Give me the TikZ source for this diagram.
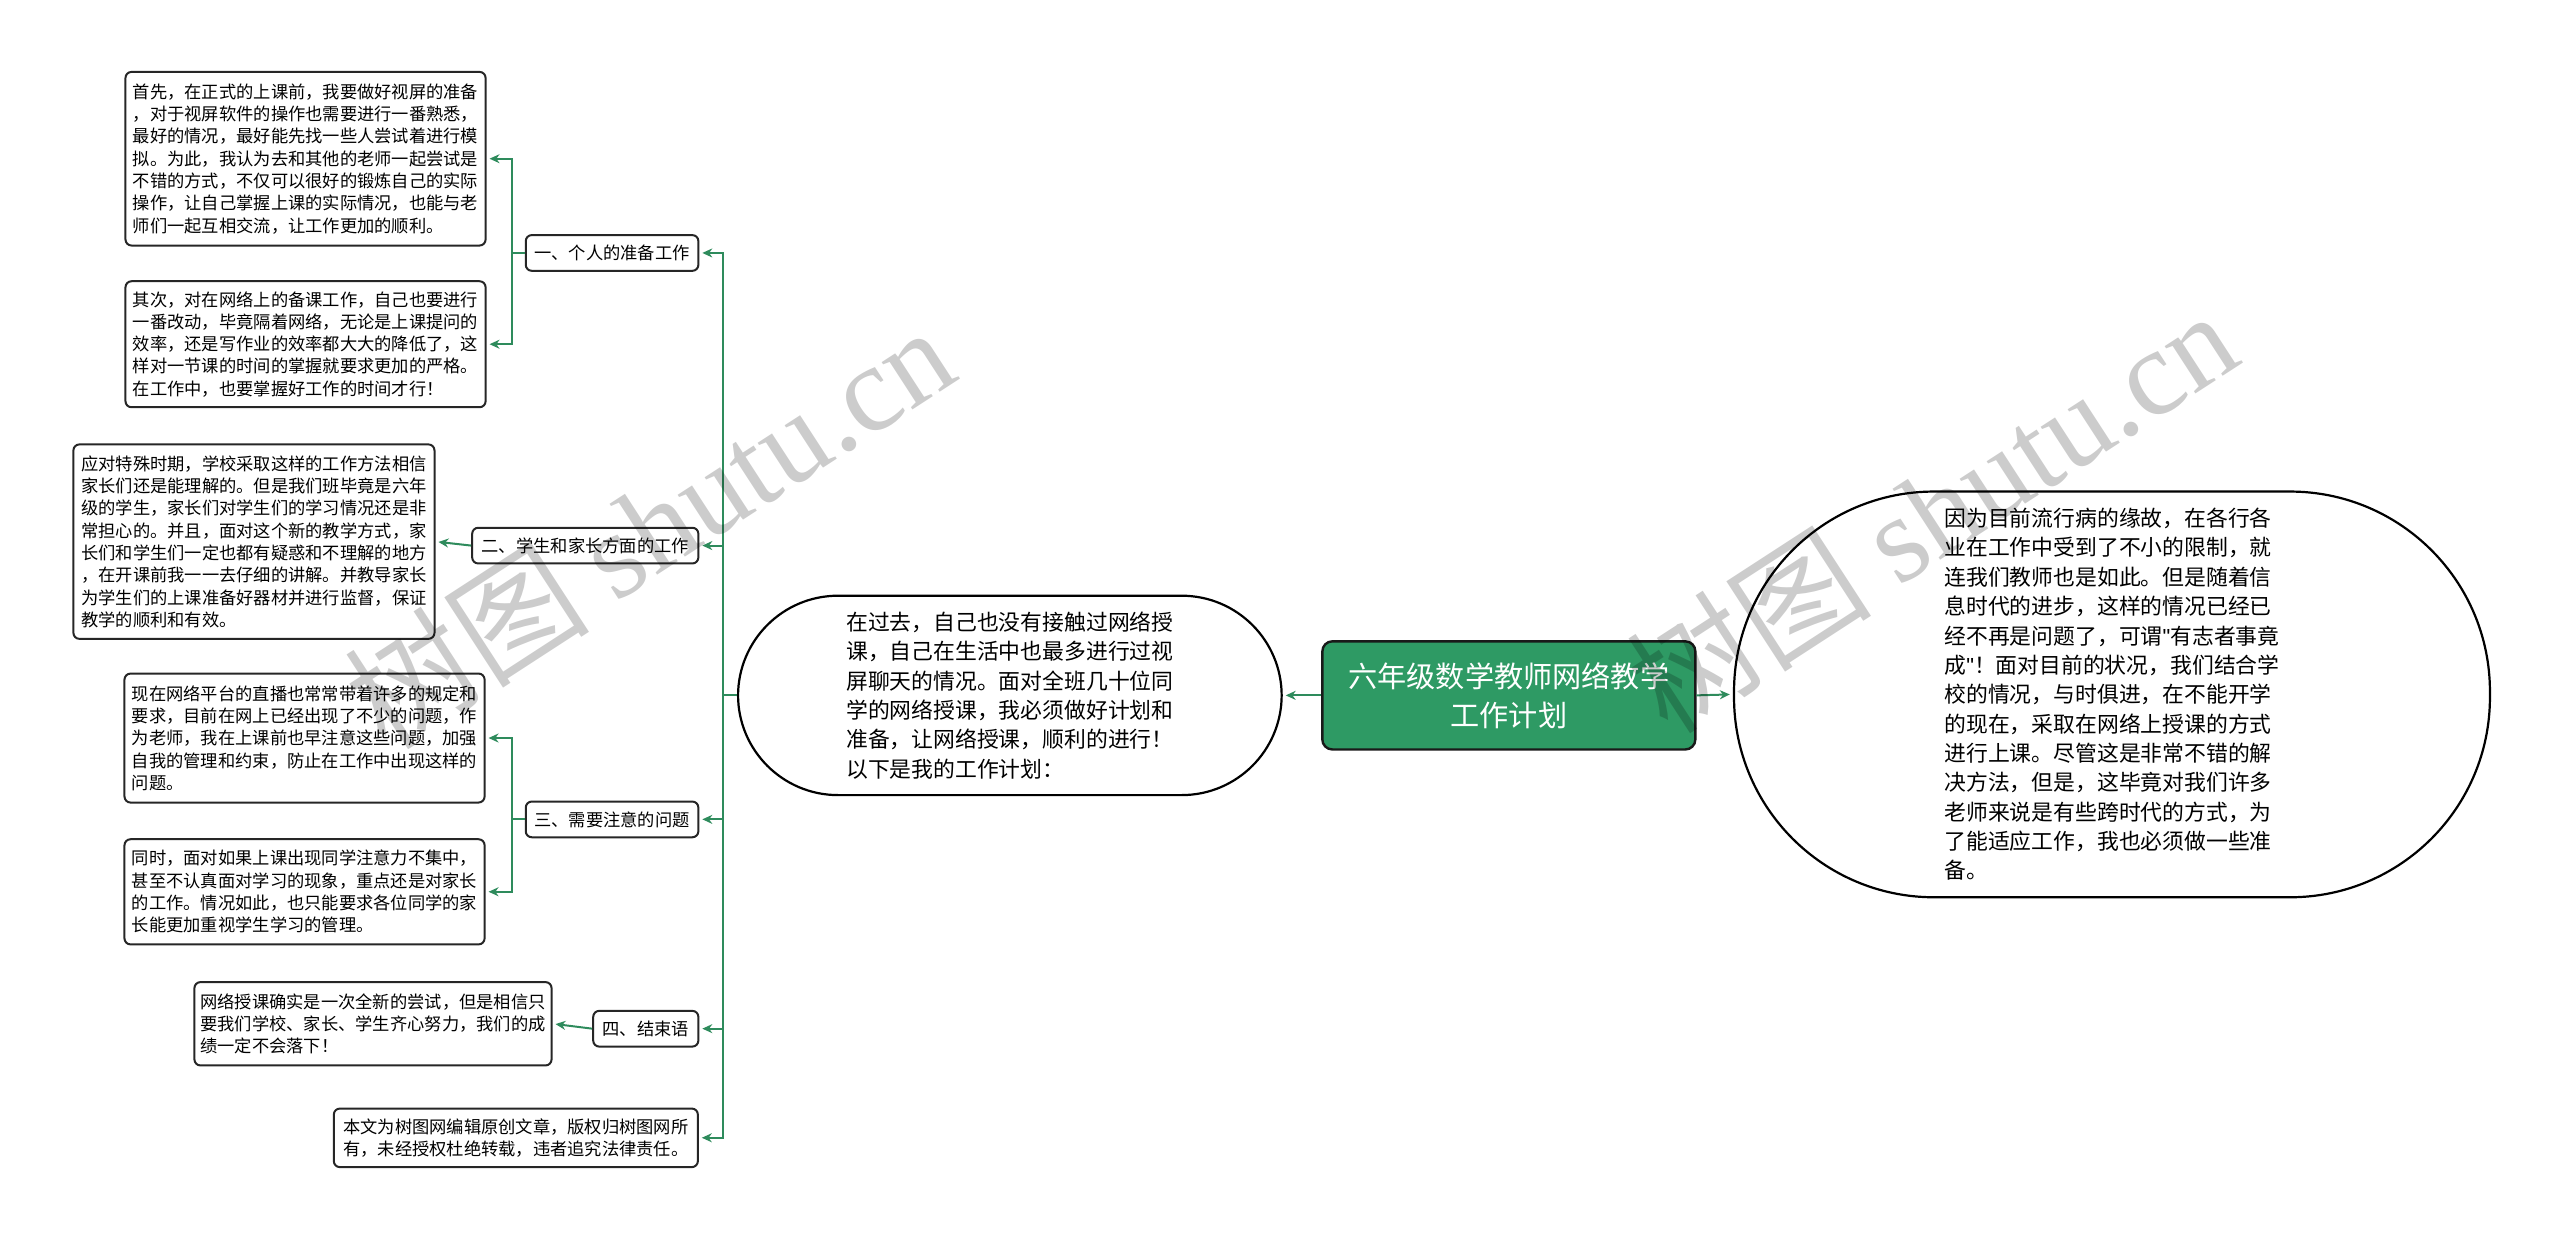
\documentclass[tikz,border=0pt]{standalone}
\usepackage{fontspec}
\setmainfont{Noto Sans CJK SC}
\newfontfamily\wmlatin{Liberation Serif}
\newfontfamily\latinsans{Liberation Sans}
\newfontfamily\wmcjk{Noto Sans CJK SC}
\usetikzlibrary{arrows.meta}
\definecolor{lgreen}{HTML}{2E8B5C}
\definecolor{rootgreen}{HTML}{2E9A64}
\begin{document}
\begin{tikzpicture}[x=0.5pt,y=-0.5pt,
  leaf/.style={draw=black!85, line width=1pt, rounded corners=3pt, fill=white,
    align=left, inner sep=0pt, font=\fontsize{8.7pt}{11.25pt}\selectfont},
  midbox/.style={leaf, align=center, minimum height=18pt},
  conn/.style={draw=lgreen, line width=1pt},
  arr/.style={conn, -{Stealth[length=5pt,width=4.5pt]}, shorten >=1.5pt},
  bigtext/.style={align=left, font=\fontsize{11pt}{14.8pt}\selectfont},
  wm/.style={text=black, opacity=0.2, rotate=33, inner sep=0pt}
]
\useasboundingbox (0,0) rectangle (2560,1243);
\begin{scope}[scale=0.992, transform shape]
% root
\node[draw=black!90, line width=1.2pt, rounded corners=5pt, fill=rootgreen,
  minimum width=188pt, minimum height=54.5pt, align=center, text=white,
  font=\fontsize{14.7pt}{19.7pt}\selectfont] (root) at (1521,701)
  {六年级数学教师网络教学\\工作计划};

% middle stadium
\node[draw=black, line width=1.1pt, rounded corners=50pt, fill=white,
  minimum width=274pt, minimum height=100.5pt, bigtext] (E) at (1018,701)
  {在过去，自己也没有接触过网络授\\课，自己在生活中也最多进行过视\\屏聊天的情况。面对全班几十位同\\学的网络授课，我必须做好计划和\\准备，让网络授课，顺利的进行！\\以下是我的工作计划：};

% right stadium
\node[draw=black, line width=1.1pt, rounded corners=100pt, fill=white,
  minimum width=381pt, minimum height=204.5pt, bigtext] (F) at (2129,700)
  {因为目前流行病的缘故，在各行各\\业在工作中受到了不小的限制，就\\连我们教师也是如此。但是随着信\\息时代的进步，这样的情况已经已\\经不再是问题了，可谓{\latinsans"}有志者事竟\\成{\latinsans"}！面对目前的状况，我们结合学\\校的情况，与时俱进，在不能开学\\的现在，采取在网络上授课的方式\\进行上课。尽管这是非常不错的解\\决方法，但是，这毕竟对我们许多\\老师来说是有些跨时代的方式，为\\了能适应工作，我也必须做一些准\\备。};

% mid level
\node[midbox, minimum width=87pt] (M1) at (617,255) {一、个人的准备工作};
\node[midbox, minimum width=114pt] (M2) at (590,550) {二、学生和家长方面的工作};
\node[midbox, minimum width=87pt] (M3) at (617,826) {三、需要注意的问题};
\node[midbox, minimum width=53pt] (M4) at (651,1037) {四、结束语};
\node[leaf, minimum width=183.5pt, minimum height=29.5pt] (M5) at (520,1147)
  {本文为树图网编辑原创文章，版权归树图网所\\有，未经授权杜绝转载，违者追究法律责任。};

% leaves
\node[leaf, minimum width=181.5pt, minimum height=87.5pt] (A1) at (308,160)
  {首先，在正式的上课前，我要做好视屏的准备\\，对于视屏软件的操作也需要进行一番熟悉，\\最好的情况，最好能先找一些人尝试着进行模\\拟。为此，我认为去和其他的老师一起尝试是\\不错的方式，不仅可以很好的锻炼自己的实际\\操作，让自己掌握上课的实际情况，也能与老\\师们一起互相交流，让工作更加的顺利。};
\node[leaf, minimum width=181.5pt, minimum height=63.5pt] (A2) at (308,347)
  {其次，对在网络上的备课工作，自己也要进行\\一番改动，毕竟隔着网络，无论是上课提问的\\效率，还是写作业的效率都大大的降低了，这\\样对一节课的时间的掌握就要求更加的严格。\\在工作中，也要掌握好工作的时间才行！};
\node[leaf, minimum width=182pt, minimum height=98pt] (B1) at (256,546)
  {应对特殊时期，学校采取这样的工作方法相信\\家长们还是能理解的。但是我们班毕竟是六年\\级的学生，家长们对学生们的学习情况还是非\\常担心的。并且，面对这个新的教学方式，家\\长们和学生们一定也都有疑惑和不理解的地方\\，在开课前我一一去仔细的讲解。并教导家长\\为学生们的上课准备好器材并进行监督，保证\\教学的顺利和有效。};
\node[leaf, minimum width=181.5pt, minimum height=65pt] (C1) at (307,744)
  {现在网络平台的直播也常常带着许多的规定和\\要求，目前在网上已经出现了不少的问题，作\\为老师，我在上课前也早注意这些问题，加强\\自我的管理和约束，防止在工作中出现这样的\\问题。};
\node[leaf, minimum width=181.5pt, minimum height=53pt] (C2) at (307,899)
  {同时，面对如果上课出现同学注意力不集中，\\甚至不认真面对学习的现象，重点还是对家长\\的工作。情况如此，也只能要求各位同学的家\\长能更加重视学生学习的管理。};
\node[leaf, minimum width=180pt, minimum height=42pt] (D1) at (376,1032)
  {网络授课确实是一次全新的尝试，但是相信只\\要我们学校、家长、学生齐心努力，我们的成\\绩一定不会落下！};

% connectors
\draw[arr] (root.west) -- (E.east);
\draw[arr] (root.east) -- (F.west);
\coordinate (tk) at (729,701);
\foreach \m in {M1,M2,M3,M4,M5}{
  \draw[arr] (E.west) -- (tk) |- (\m.east);
}
\draw[arr] (M1.west) -- ++(-13,0) |- (A1.east);
\draw[arr] (M1.west) -- ++(-13,0) |- (A2.east);
\draw[arr] (M2.west) -- (B1.east);
\draw[arr] (M3.west) -- ++(-13,0) |- (C1.east);
\draw[arr] (M3.west) -- ++(-13,0) |- (C2.east);
\draw[arr] (M4.west) -- (D1.east);

% watermarks
\node[wm] (wm1) at (654,530) {\fontsize{62pt}{62pt}\selectfont\wmcjk 树图 \wmlatin shutu.cn};
\node[wm] (wm2) at (1947,514) {\fontsize{62pt}{62pt}\selectfont\wmcjk 树图 \wmlatin shutu.cn};
\end{scope}
\end{tikzpicture}
\end{document}
